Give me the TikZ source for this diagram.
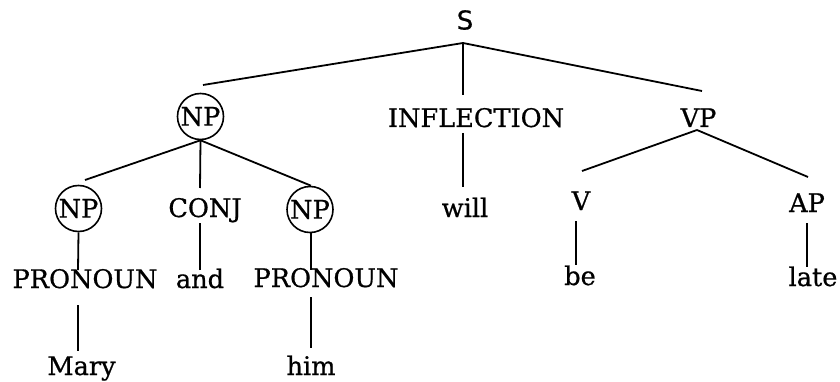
\documentclass[tikz,border=0pt]{standalone}
\usepackage{fontspec}
\setmainfont{DejaVu Serif}[FakeBold=0.7]
\newfontfamily\sfont{DejaVu Sans}[FakeBold=0.5]
\usetikzlibrary{calc}
\begin{document}
\begin{tikzpicture}[x=1pt,y=-1pt,
  lbl/.style={inner sep=0pt,anchor=base,font=\fontsize{25.6}{30}\selectfont},
  circ/.style={draw,circle,line width=1.6pt,minimum size=46pt,inner sep=0pt,font=\fontsize{25.6}{30}\selectfont},
  edge/.style={line width=1.8pt}]
\useasboundingbox (0,0) rectangle (840,382);
% nodes
\node[lbl,font=\sfont\fontsize{26}{30}\selectfont] (S) at (465,29.5) {S};
\node[circ] (NP1) at (200.5,116.5) {NP};
\node[lbl] (INFL) at (476,127) {INFLECTION};
\node[lbl] (VP) at (698.5,127) {VP};
\node[circ] (NP2) at (78.5,208.5) {NP};
\node[lbl] (CONJ) at (205,217) {CONJ};
\node[circ] (NP3) at (310,209.5) {NP};
\node[lbl] (will) at (465,217) {will};
\node[lbl] (V) at (581,210) {V};
\node[lbl] (AP) at (807,212) {AP};
\node[lbl] (PRON1) at (85,288) {PRONOUN};
\node[lbl] (and) at (200,288) {and};
\node[lbl] (PRON2) at (326,287) {PRONOUN};
\node[lbl] (be) at (580,285) {be};
\node[lbl] (late) at (813,286) {late};
\node[lbl] (Mary) at (81.5,375) {Mary};
\node[lbl] (him) at (311,375) {him};
% connectors
\draw[edge] ($(S.base)+(-2,13.5)$) -- ($(NP1.center)+(2.5,-31.5)$);
\draw[edge] ($(S.base)+(-2,13.5)$) -- ($(INFL.base)+(-13,-32)$);
\draw[edge] ($(S.base)+(-2,13.5)$) -- ($(VP.base)+(3.5,-36)$);
\draw[edge] (NP1.south) -- ($(NP2.center)+(6.5,-28.5)$);
\draw[edge] (NP1.south) -- ($(CONJ.base)+(-5,-29)$);
\draw[edge] (NP1.south) -- ($(NP3.north)+(1,0)$);
\draw[edge] (NP2.south) -- ($(PRON1.base)+(-7,-18)$);
\draw[edge] ($(CONJ.base)+(-5,6)$) -- ($(and.base)+(0,-18)$);
\draw[edge] ($(NP3.south)+(1,0)$) -- ($(PRON2.base)+(-15,-17)$);
\draw[edge] ($(PRON1.base)+(-7,17)$) -- ($(Mary.base)+(-3.5,-24)$);
\draw[edge] ($(PRON2.base)+(-15,10)$) -- ($(him.base)+(0,-27)$);
\draw[edge] ($(INFL.base)+(-13,6)$) -- ($(will.base)+(-2,-30)$);
\draw[edge] ($(VP.base)+(-1.5,3)$) -- ($(V.base)+(1,-39)$);
\draw[edge] ($(VP.base)+(-1.5,3)$) -- ($(AP.base)+(1,-35)$);
\draw[edge] ($(V.base)+(-5,11)$) -- ($(be.base)+(-4,-20)$);
\draw[edge] ($(AP.base)+(0,11)$) -- ($(late.base)+(-6,-19)$);
\end{tikzpicture}
\end{document}
